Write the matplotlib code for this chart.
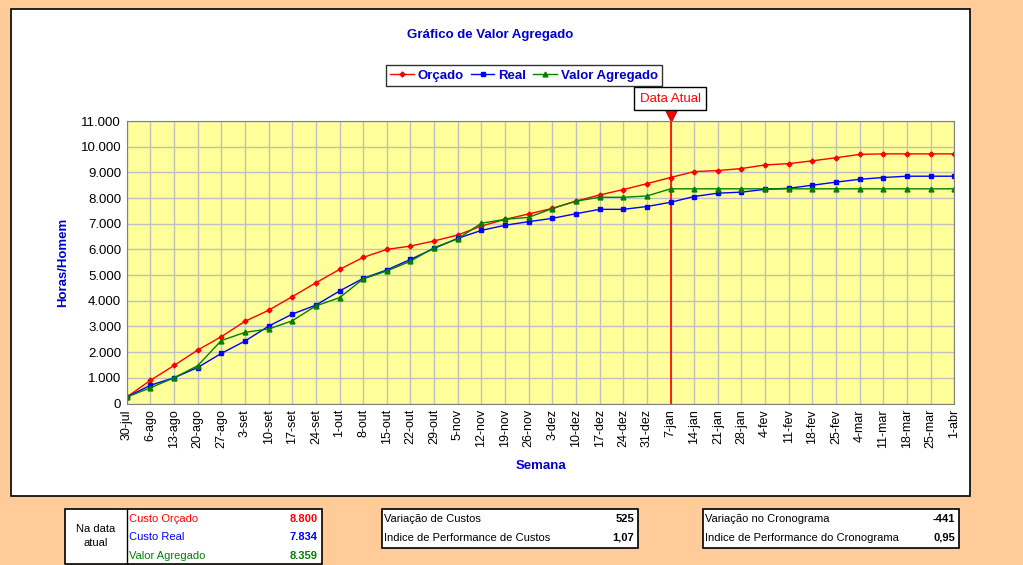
import matplotlib.pyplot as plt
from matplotlib.patches import Rectangle
from matplotlib.lines import Line2D
import matplotlib.transforms as mtransforms

plt.rcParams['font.family'] = ['Liberation Sans', 'DejaVu Sans']

semanas = ['30-jul', '6-ago', '13-ago', '20-ago', '27-ago', '3-set', '10-set', '17-set',
           '24-set', '1-out', '8-out', '15-out', '22-out', '29-out', '5-nov', '12-nov',
           '19-nov', '26-nov', '3-dez', '10-dez', '17-dez', '24-dez', '31-dez', '7-jan',
           '14-jan', '21-jan', '28-jan', '4-fev', '11-fev', '18-fev', '25-fev', '4-mar',
           '11-mar', '18-mar', '25-mar', '1-abr']

orcado = [250, 900, 1480, 2080, 2600, 3200, 3630, 4160, 4700, 5220, 5690, 6000,
          6130, 6330, 6560, 6910, 7170, 7380, 7600, 7880, 8120, 8330, 8560, 8800,
          9030, 9070, 9150, 9290, 9340, 9450, 9570, 9700, 9720, 9720, 9720, 9720]

real = [250, 710, 1000, 1400, 1950, 2430, 3010, 3480, 3830, 4380, 4870, 5200,
        5610, 6040, 6430, 6740, 6940, 7080, 7210, 7390, 7560, 7560, 7670, 7834,
        8060, 8190, 8230, 8340, 8380, 8500, 8620, 8730, 8800, 8850, 8850, 8850]

agregado = [250, 610, 1000, 1470, 2450, 2770, 2900, 3220, 3800, 4120, 4850, 5160,
            5540, 6070, 6410, 7020, 7170, 7250, 7590, 7880, 8030, 8030, 8080, 8359,
            8359, 8359, 8359, 8359, 8359, 8359, 8359, 8359, 8359, 8359, 8359, 8359]

y_ticks = list(range(0, 12000, 1000))
y_labels = ['0', '1.000', '2.000', '3.000', '4.000', '5.000', '6.000', '7.000',
            '8.000', '9.000', '10.000', '11.000']
data_atual = '7-jan'

tabela_atual = [('Custo Orçado', '8.800', '#FF0000'),
                ('Custo Real', '7.834', '#0000FF'),
                ('Valor Agregado', '8.359', '#008000')]
tabela_custos = [('Variação de Custos', '525'),
                 ('Indice de Performance de Custos', '1,07')]
tabela_crono = [('Variação no Cronograma', '-441'),
                ('Indice de Performance do Cronograma', '0,95')]

W, H = 1023, 565
def fx(x):
    return x / W
def fy(y):
    return 1 - y / H

fig = plt.figure(figsize=(W / 100, H / 100), dpi=100, facecolor='#FFCC99')

# white chart panel
fig.patches.append(Rectangle((fx(11), fy(496)), fx(970 - 11), (496 - 9) / H,
                             transform=fig.transFigure, facecolor='white',
                             edgecolor='black', linewidth=1.2, zorder=-5))

ax = fig.add_axes([fx(126.7), fy(403.5), fx(954.3 - 126.7), (403.5 - 121) / H])
ax.set_facecolor('#FFFF99')
x = list(range(len(semanas)))

ax.plot(x, orcado, color='#FF0000', marker='D', markersize=2.5, linewidth=1, label='Orçado')
ax.plot(x, real, color='#0000FF', marker='s', markersize=3, linewidth=1, label='Real')
ax.plot(x, agregado, color='#008000', marker='^', markersize=3.5, linewidth=1,
        label='Valor Agregado')

xi = semanas.index(data_atual)
ax.axvline(xi, color='#FF0000', linewidth=1.2, zorder=1)
trans = mtransforms.blended_transform_factory(ax.transData, ax.transAxes)
ax.plot([xi], [1.018], transform=trans, marker='v', markersize=9, color='#FF0000',
        markeredgecolor='#990000', markeredgewidth=0.5, clip_on=False)

ax.set_xlim(0, len(semanas) - 1)
ax.set_ylim(0, 11000)
ax.set_xticks(x)
ax.set_xticklabels(semanas, rotation=90, fontsize=9)
ax.set_yticks(y_ticks)
ax.set_yticklabels(y_labels, fontsize=9.5)
ax.tick_params(length=0, pad=4)
ax.grid(True, color='#C0C0C0', linewidth=1)
ax.set_axisbelow(True)
for s in ax.spines.values():
    s.set_color('#808080')

fig.text(fx(490), fy(35), 'Gráfico de Valor Agregado', ha='center', va='center',
         fontsize=9.5, fontweight='bold', color='#0000CC')
fig.text(fx(63), fy(262), 'Horas/Homem', ha='center', va='center', rotation=90,
         fontsize=9.5, fontweight='bold', color='#0000CC')
fig.text(fx(541), fy(466), 'Semana', ha='center', va='center',
         fontsize=9.5, fontweight='bold', color='#0000CC')

handles = [Line2D([], [], color='#FF0000', marker='D', markersize=2.5, linewidth=1),
           Line2D([], [], color='#0000FF', marker='s', markersize=3, linewidth=1),
           Line2D([], [], color='#008000', marker='^', markersize=3.5, linewidth=1)]
leg = fig.legend(handles, ['Orçado', 'Real', 'Valor Agregado'], loc='center',
                 bbox_to_anchor=(fx(524), fy(75.5)), ncol=3, frameon=True,
                 fancybox=False, edgecolor='black', handlelength=1.8,
                 handletextpad=0.3, columnspacing=0.5, borderpad=0.3,
                 prop={'size': 9.5, 'weight': 'bold'})
leg.get_frame().set_linewidth(1)
for t in leg.get_texts():
    t.set_color('#0000CC')

fig.text(fx(670), fy(98.5), 'Data Atual', ha='center', va='center', fontsize=9.5,
         color='#FF0000',
         bbox=dict(boxstyle='square,pad=0.45', facecolor='white', edgecolor='black',
                   linewidth=1))

def caixa(x0, y0, x1, y1):
    fig.patches.append(Rectangle((fx(x0), fy(y1)), fx(x1 - x0), (y1 - y0) / H,
                                 transform=fig.transFigure, facecolor='white',
                                 edgecolor='black', linewidth=1.2))

# tabela na data atual
caixa(65, 509, 322, 564)
fig.add_artist(Line2D([fx(127), fx(127)], [fy(509), fy(564)], color='black', linewidth=1))
fig.text(fx(96), fy(536.5), 'Na data\natual', ha='center', va='center', fontsize=8,
         linespacing=1.5)
for i, (rot, val, cor) in enumerate(tabela_atual):
    yy = 519 + i * 18.5
    fig.text(fx(129), fy(yy), rot, ha='left', va='center', fontsize=8, color=cor)
    fig.text(fx(318), fy(yy), val, ha='right', va='center', fontsize=8,
             fontweight='bold', color=cor)

for (x0, x1, linhas) in [(382, 638, tabela_custos), (703, 959, tabela_crono)]:
    caixa(x0, 509, x1, 548)
    for i, (rot, val) in enumerate(linhas):
        yy = 519 + i * 19
        fig.text(fx(x0 + 2), fy(yy), rot, ha='left', va='center', fontsize=8)
        fig.text(fx(x1 - 4), fy(yy), val, ha='right', va='center', fontsize=8,
                 fontweight='bold')

fig.savefig('out.png', dpi=100, facecolor=fig.get_facecolor())
